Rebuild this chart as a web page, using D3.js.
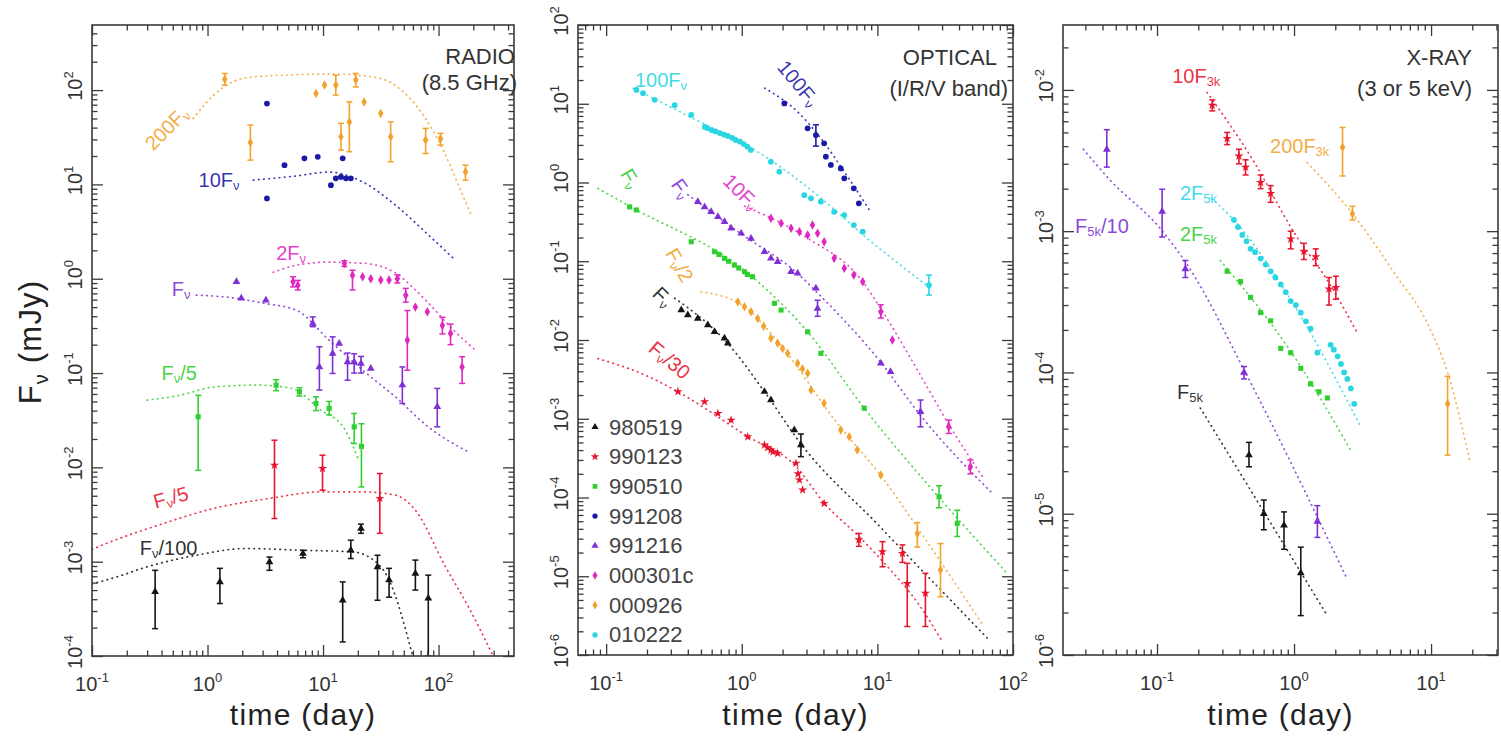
<!DOCTYPE html>
<html><head><meta charset="utf-8">
<script src="https://cdn.jsdelivr.net/npm/d3@7"></script>
<style>
body{margin:0;background:#fff}
svg{display:block}
text{font-family:"Liberation Sans",Arial,Helvetica,sans-serif}
</style>
</head><body>
<svg id="chart" width="1501" height="741"></svg>
<script>
// ===================== DATA (time in days, flux in mJy) =====================
// point rows: [t, F, errLow, errHigh]  (error values optional)
// ---- RADIO 8.5 GHz ----
const radio_000926 = [[1.41,130,113,150],[2.35,27.9,18.1,42.6],[8.7,92],[10.3,113],[12.9,113,88.5,144],[14.3,32,23.1,44.4],[16.9,46,22.2,75],[19.2,128,108,150],[22.7,75],[31.6,56.6],[38.5,32,17.4,46],[77.3,29.5,21.3,39.3],[104,30.7,26.1,34.8],[171,13.6,11.1,16]];
const radio_000926_model = [[0.75,50],[1.27,100],[2.08,134],[4.6,144],[12.4,148],[30.4,134],[49.9,95],[74,54],[110,23],[149,9.8],[192,4.7]];
const radio_991208 = [[3.27,72],[3.27,7.1],[4.64,16],[6.9,18.9],[9.0,19.6],[14.8,18.9],[11.7,9.8],[12.9,11.6],[14.3,12],[15.8,11.6],[17.4,11.6]];
const radio_991208_model = [[2.49,11.1],[5.6,12.2],[11.3,13.5],[22.1,10.6],[42.6,6.0],[82,2.9],[140,1.57]];
const radio_000301c = [[5.5,0.93,0.82,1.05],[6.05,0.855,0.76,0.96],[15.3,1.45,1.35,1.55],[18,1.09,0.76,1.23],[22,1.05],[25.9,1.0],[31.6,0.97],[37.3,0.97],[44,1.0,0.9,1.1],[52,0.67,0.565,0.79],[63,0.5],[53.7,0.223,0.107,0.46],[80,0.446],[108,0.32,0.26,0.39],[127,0.263,0.2,0.33],[160,0.116,0.0776,0.149]];
const radio_000301c_model = [[3.7,1.17],[5.85,1.39],[11.3,1.5],[22.1,1.46],[42.6,1.15],[59.7,0.81],[82,0.55],[135,0.285],[208,0.175]];
const radio_991216 = [[1.78,0.93],[1.96,0.62],[3.2,0.59],[8.15,0.336,0.31,0.394],[9.3,0.116,0.066,0.19],[12.1,0.161,0.099,0.242],[13.8,0.206],[16.3,0.131,0.084,0.163],[18.6,0.131,0.1,0.16],[21.3,0.126,0.1,0.15],[25.9,0.112],[48.6,0.0745,0.0476,0.116],[97.5,0.0439,0.0269,0.0687]];
const radio_991216_model = [[0.8,0.67],[1.78,0.62],[3.04,0.55],[5.85,0.465],[11.3,0.223],[22.1,0.107],[42.6,0.0555],[82,0.0267],[189,0.0142]];
const radio_990510 = [[0.83,0.0344,0.0093,0.058],[3.93,0.0745,0.065,0.085],[6.25,0.0633,0.057,0.07],[8.7,0.0476,0.04,0.056],[11.3,0.0422,0.036,0.05],[18.6,0.0269,0.0179,0.0373],[21.5,0.0167,0.0062,0.029]];
const radio_990510_model = [[0.3,0.0516],[0.57,0.058],[1.13,0.071],[2.7,0.0745],[5.3,0.069],[9.6,0.0404],[15.2,0.026],[20.4,0.0119]];
const radio_990123 = [[3.8,0.01055,0.00287,0.0194],[9.9,0.00973,0.00573,0.01346],[31,0.00468,0.002,0.0086]];
const radio_990123_model = [[0.1,0.00135],[0.135,0.00157],[0.415,0.00254],[1.12,0.00366],[3.4,0.00468],[9.9,0.0055],[22,0.0055],[42.6,0.00507],[63,0.00352],[115,0.00088],[182,0.00033],[290,0.000106]];
const radio_980519 = [[0.352,0.00048,0.000195,0.00081],[1.28,0.00061,0.00036,0.00085],[3.44,0.000995,0.00081,0.00112],[6.7,0.00122,0.0011,0.00132],[17.4,0.00132,0.00108,0.00169],[21.3,0.00225,0.002,0.0025],[14.8,0.00039,0.000141,0.00061],[29.6,0.00088,0.00039,0.00117],[37.3,0.00064,0.00042,0.00085],[63,0.00075,0.0005,0.00104],[81.5,0.00041,0.0001,0.00072]];
const radio_980519_model = [[0.1,0.00058],[0.164,0.00069],[0.298,0.00088],[0.8,0.00117],[2.17,0.00138],[6.7,0.00132],[18,0.00127],[25,0.00112],[37.3,0.00064],[59,0.000106]];

// ---- OPTICAL I/R/V band ----
const opt_010222 = [[0.167,15],[0.187,13.6],[0.228,11.2],[0.32,9.6],[0.424,7.2],[0.535,5.07],[0.56,4.9],[0.6,4.64],[0.64,4.45],[0.69,4.25],[0.74,4.05],[0.79,3.9],[0.85,3.7],[0.9,3.47],[0.97,3.3],[1.035,3.08],[1.1,2.85],[1.165,2.59],[1.64,1.84],[1.89,1.37],[2.89,0.69],[3.24,0.63],[3.83,0.57],[4.8,0.425],[5.7,0.386],[6.7,0.288],[7.8,0.237],[24,0.0499,0.0372,0.0668]];
const opt_010222_model = [[0.158,15.7],[0.49,5.9],[1.355,2.37],[3.75,0.655],[8.4,0.195],[11.9,0.12],[24.5,0.0457]];
const opt_991208 = [[2.06,10.1],[3.06,4.87],[3.52,4.0,2.9,5.4],[4.05,3.15],[4.17,2.13],[4.54,1.67],[5.37,1.51],[5.7,1.13],[6.7,0.843],[7.3,0.544]];
const opt_991208_model = [[1.475,15.8],[2.58,7.9],[3.83,3.64],[5.7,1.37],[8.9,0.425]];
const opt_000301c = [[1.64,0.351],[1.95,0.303],[2.31,0.262],[2.66,0.237],[3.06,0.215],[3.32,0.288],[3.62,0.226],[4.05,0.177],[4.8,0.109],[5.7,0.0813],[6.7,0.0668],[7.8,0.055],[10.6,0.0229,0.019,0.028],[12.9,0.01],[33.6,0.00079,0.00065,0.00096],[48.5,0.000246,0.0002,0.0003]];
const opt_000301c_model = [[1.05,0.5],[3,0.2],[7.8,0.055],[10.6,0.025],[20,0.004],[33.6,0.00085],[60,0.00018]];
const opt_991216 = [[0.474,0.57],[0.532,0.49],[0.594,0.426],[0.667,0.368],[0.746,0.318],[0.834,0.262],[0.99,0.226],[1.17,0.195],[1.47,0.132],[1.64,0.109],[1.84,0.0987],[2.31,0.0736],[2.58,0.0702],[3.52,0.0453],[3.62,0.0252,0.02,0.032],[10.6,0.00506],[12.5,0.00396],[20.8,0.00123,0.00079,0.00173]];
const opt_991216_model = [[0.4,0.7],[1.0,0.22],[2.58,0.07],[3.6,0.04],[10.6,0.0052],[20.4,0.00115],[70,0.000114]];
const opt_990510 = [[0.149,0.49],[0.167,0.448],[0.424,0.177],[0.63,0.132],[0.68,0.122],[0.746,0.109],[0.8,0.1],[0.883,0.0895],[0.95,0.082],[1.047,0.0736],[1.1,0.068],[1.2,0.0636],[1.74,0.0292],[1.95,0.024],[3.06,0.0127],[3.83,0.00677],[8.0,0.00136],[28.5,0.000102,0.0000741,0.000141],[38.8,0.000047,0.000032,0.000069]];
const opt_990510_model = [[0.087,0.84],[0.149,0.5],[1.2,0.063],[3.06,0.0127],[8,0.00136],[28.5,0.0001],[90,0.000011]];
const opt_000926 = [[0.935,0.0307],[1.047,0.0265],[1.17,0.0229],[1.31,0.0188],[1.45,0.015],[1.64,0.0105],[1.84,0.00907],[2.0,0.0078],[2.18,0.00677],[2.58,0.00506],[2.8,0.0043],[3.06,0.00377],[3.24,0.00232],[4.05,0.00157],[5.37,0.00072],[6.2,0.00059],[7.1,0.0004],[10.6,0.000193],[19.7,0.000035,0.0000235,0.000048],[29.2,0.000012,0.0000055,0.000026]];
const opt_000926_model = [[0.5,0.041],[1.0,0.028],[2.0,0.008],[5.0,0.0009],[10.6,0.00019],[20,0.00004],[60,0.0000024]];
const opt_980519 = [[0.358,0.024],[0.4,0.0208],[0.474,0.0188],[0.562,0.0155],[0.63,0.0127],[0.746,0.0105],[0.79,0.00907],[1.47,0.00221],[1.64,0.00173],[2.44,0.00072],[2.73,0.000464,0.00033,0.00064]];
const opt_980519_model = [[0.32,0.034],[0.79,0.009],[1.5,0.0021],[2.73,0.00048],[10,0.000046],[68,0.0000015]];
const opt_990123 = [[0.338,0.00221],[0.532,0.00165],[0.667,0.00117],[0.834,0.00096],[1.106,0.00059],[1.47,0.000464],[1.55,0.00043],[1.64,0.0004],[1.7,0.00038],[1.84,0.000364],[2.51,0.000272],[2.6,0.0002],[2.66,0.000167],[2.81,0.000125],[4.05,0.000084],[7.3,0.000029,0.000024,0.000035],[10.9,0.0000205,0.0000132,0.0000275],[15.3,0.0000195,0.000015,0.000025],[16.6,0.0000081,0.0000023,0.0000146],[22.6,0.0000061,0.0000023,0.0000109]];
const opt_990123_model = [[0.087,0.0058],[0.2,0.0035],[0.338,0.0022],[1.1,0.0006],[2.5,0.00025],[4.05,0.000085],[7.3,0.000032],[12,0.000013],[20,0.0000045],[30,0.0000015]];

// ---- X-RAY 3 or 5 keV ----
const xray_990123 = [[0.253,0.00778,0.0071,0.0085],[0.325,0.00453,0.0041,0.005],[0.396,0.0034,0.003,0.0038],[0.443,0.00284,0.0025,0.0032],[0.57,0.00221,0.002,0.0025],[0.675,0.00185,0.0016,0.0021],[0.946,0.00088,0.00075,0.001],[1.18,0.00072,0.00063,0.00082],[1.44,0.00066,0.00057,0.00075],[1.8,0.00039,0.0003,0.00047],[2.02,0.0004,0.00033,0.00048]];
const xray_990123_model = [[0.232,0.0096],[0.5,0.0032],[1.0,0.00098],[1.8,0.00043],[2.9,0.00019]];
const xray_000926 = [[2.26,0.00392,0.00246,0.00542],[2.67,0.00133,0.0012,0.0015],[13.2,0.00006,0.000026,0.000094]];
const xray_000926_model = [[1.25,0.00305],[2.67,0.00133],[5.4,0.000506],[9.5,0.000218],[13.2,0.0001],[19.3,0.000023]];
const xray_991216 = [[0.043,0.00379,0.00284,0.00523],[0.109,0.00138,0.00091,0.00198],[0.161,0.00054,0.00047,0.00062],[0.431,0.0001,0.00009,0.00011],[1.48,0.0000088,0.0000068,0.0000114]];
const xray_991216_model = [[0.029,0.0038],[0.0456,0.00229],[0.106,0.00104],[0.166,0.00058],[0.456,0.000094],[2.46,0.0000034]];
const xray_010222 = [[0.364,0.0012],[0.39,0.00107],[0.419,0.00094],[0.45,0.00085],[0.482,0.00075],[0.52,0.00071],[0.57,0.00064],[0.62,0.00058],[0.675,0.00052],[0.73,0.00047],[0.8,0.00042],[0.87,0.00037],[0.946,0.00032],[1.03,0.0003],[1.12,0.000265],[1.22,0.00023],[1.32,0.000204],[1.48,0.000138],[1.85,0.000157],[1.95,0.000145],[2.08,0.00013],[2.2,0.000115],[2.32,0.0001],[2.45,0.00009],[2.6,0.000077],[2.75,0.00006]];
const xray_010222_model = [[0.25,0.0017],[0.35,0.00125],[1.0,0.0003],[3.08,0.000041]];
const xray_990510 = [[0.325,0.00052],[0.407,0.00044],[0.482,0.00034],[0.57,0.000265],[0.675,0.000232],[0.8,0.000148],[0.946,0.000138],[1.12,0.000107],[1.32,0.000083],[1.52,0.000073],[1.75,0.000066]];
const xray_990510_model = [[0.29,0.00062],[1.0,0.00013],[2.6,0.000028]];
const xray_980519 = [[0.469,0.000026,0.0000215,0.000032],[0.602,0.00001,0.0000077,0.0000125],[0.845,0.0000083,0.0000056,0.0000103],[1.12,0.0000038,0.0000019,0.0000058]];
const xray_980519_model = [[0.207,0.000056],[1.75,0.0000019]];

// ---- legend / tick labels ----
const grbNames = ["980519","990123","990510","991208","991216","000301c","000926","010222"];
const radioXExp = [-1,0,1,2], radioYExp = [-4,-3,-2,-1,0,1,2];
const optXExp = [-1,0,1,2], optYExp = [-6,-5,-4,-3,-2,-1,0,1,2];
const xrayXExp = [-1,0,1], xrayYExp = [-6,-5,-4,-3,-2];

// ===================== STYLE =====================
const grbStyle = {
  "980519": {color:"#151515", sym:d3.symbolTriangle},
  "990123": {color:"#e8142e", sym:d3.symbolStar},
  "990510": {color:"#2fcf2f", sym:d3.symbolSquare},
  "991208": {color:"#1a1aa6", sym:d3.symbolCircle},
  "991216": {color:"#7e2fd6", sym:d3.symbolTriangle},
  "000301c":{color:"#e028c0", sym:d3.symbolDiamond},
  "000926": {color:"#f2a22c", sym:d3.symbolDiamond},
  "010222": {color:"#2ad6e2", sym:d3.symbolCircle}
};

const panels = [
  {key:"radio", L:92, R:514, T:25, B:656, xDom:[0.1,450], yDom:[1e-4,490], xExp:radioXExp, yExp:radioYExp,
   title:[["RADIO",515,64],["(8.5 GHz)",517,90]],
   series:[
    {grb:"000926", pts:radio_000926, model:radio_000926_model, label:"200F_{ν}", at:[0.443,39.5], anchor:"middle", rot:-45},
    {grb:"991208", pts:radio_991208, model:radio_991208_model, label:"10F_{ν}", at:[0.836,11.1], anchor:"start", rot:0},
    {grb:"000301c",pts:radio_000301c,model:radio_000301c_model,label:"2F_{ν}", at:[3.93,1.87], anchor:"start", rot:0},
    {grb:"991216", pts:radio_991216, model:radio_991216_model, label:"F_{ν}", at:[0.49,0.776], anchor:"start", rot:0},
    {grb:"990510", pts:radio_990510, model:radio_990510_model, label:"F_{ν}/5", at:[0.40,0.1], anchor:"start", rot:0},
    {grb:"990123", pts:radio_990123, model:radio_990123_model, label:"F_{ν}/5", at:[0.342,0.0043], anchor:"start", rot:-15},
    {grb:"980519", pts:radio_980519, model:radio_980519_model, label:"F_{ν}/100", at:[0.259,0.00139], anchor:"start", rot:0}
   ]},
  {key:"opt", L:578, R:1013, T:25, B:655, xDom:[0.062,100], yDom:[1e-6,100], xExp:optXExp, yExp:optYExp,
   title:[["OPTICAL",997,65],["(I/R/V band)",1008,96]], legend:true,
   series:[
    {grb:"010222", pts:opt_010222, model:opt_010222_model, label:"100F_{ν}", at:[0.163,20], anchor:"start", rot:0},
    {grb:"991208", pts:opt_991208, model:opt_991208_model, label:"100F_{ν}", at:[2.61,18.2], anchor:"middle", rot:50},
    {grb:"000301c",pts:opt_000301c,model:opt_000301c_model,label:"10F_{ν}", at:[0.99,0.76], anchor:"middle", rot:45},
    {grb:"991216", pts:opt_991216, model:opt_991216_model, label:"F_{ν}", at:[0.358,0.84], anchor:"middle", rot:55},
    {grb:"990510", pts:opt_990510, model:opt_990510_model, label:"F_{ν}", at:[0.151,1.13], anchor:"middle", rot:60},
    {grb:"000926", pts:opt_000926, model:opt_000926_model, label:"F_{ν}/2", at:[0.348,0.0895], anchor:"middle", rot:60},
    {grb:"980519", pts:opt_980519, model:opt_980519_model, label:"F_{ν}", at:[0.262,0.0355], anchor:"middle", rot:45},
    {grb:"990123", pts:opt_990123, model:opt_990123_model, label:"F_{ν}/30", at:[0.294,0.00557], anchor:"middle", rot:40}
   ]},
  {key:"xray", L:1063, R:1498, T:25, B:655, xDom:[0.0206,30.8], yDom:[1e-6,0.0288], xExp:xrayXExp, yExp:xrayYExp,
   title:[["X-RAY",1472,65],["(3 or 5 keV)",1472,96]],
   series:[
    {grb:"990123", pts:xray_990123, model:xray_990123_model, label:"10F_{3k}", at:[0.129,0.0125], anchor:"start", rot:0},
    {grb:"000926", pts:xray_000926, model:xray_000926_model, label:"200F_{3k}", at:[0.668,0.004], anchor:"start", rot:0},
    {grb:"991216", pts:xray_991216, model:xray_991216_model, label:"F_{5k}/10", at:[0.0252,0.00108], anchor:"start", rot:0},
    {grb:"010222", pts:xray_010222, model:xray_010222_model, label:"2F_{5k}", at:[0.147,0.00187], anchor:"start", rot:0},
    {grb:"990510", pts:xray_990510, model:xray_990510_model, label:"2F_{5k}", at:[0.147,0.00096], anchor:"start", rot:0},
    {grb:"980519", pts:xray_980519, model:xray_980519_model, label:"F_{5k}", at:[0.14,0.000073], anchor:"start", rot:0}
   ]}
];

// ===================== DRAW =====================
const svg = d3.select("#chart");
const defs = svg.append("defs");
const AXC = "#3a3a3a";

function rich(textSel, str, subSize, subDy) {
  const re = /_\{([^}]*)\}/g;
  let last = 0, m, shifted = false;
  while ((m = re.exec(str)) !== null) {
    if (m.index > last) {
      const t = textSel.append("tspan").text(str.slice(last, m.index));
      if (shifted) { t.attr("dy", -subDy); shifted = false; }
    }
    textSel.append("tspan").attr("dy", shifted ? 0 : subDy).attr("font-size", subSize).text(m[1]);
    shifted = true;
    last = re.lastIndex;
  }
  if (last < str.length) {
    const t = textSel.append("tspan").text(str.slice(last));
    if (shifted) t.attr("dy", -subDy);
  }
}

function decadeTicks(dom) {
  const lo = Math.floor(Math.log10(dom[0])), hi = Math.ceil(Math.log10(dom[1]));
  const major = [], minor = [];
  for (let e = lo; e <= hi; e++) {
    const b = Math.pow(10, e);
    if (b >= dom[0]*0.9999 && b <= dom[1]*1.0001) major.push(b);
    for (let k = 2; k <= 9; k++) { const v = k*b; if (v > dom[0] && v < dom[1]) minor.push(v); }
  }
  return {major, minor};
}

panels.forEach(p => {
  const x = d3.scaleLog().domain(p.xDom).range([p.L, p.R]);
  const y = d3.scaleLog().domain(p.yDom).range([p.B, p.T]);
  const g = svg.append("g");
  const clipId = "clip-" + p.key;
  defs.append("clipPath").attr("id", clipId).append("rect")
    .attr("x", p.L).attr("y", p.T).attr("width", p.R - p.L).attr("height", p.B - p.T);
  const plot = g.append("g").attr("clip-path", `url(#${clipId})`);
  const line = d3.line().x(d => x(d[0])).y(d => y(d[1])).curve(d3.curveMonotoneX);

  // model curves (dotted)
  p.series.forEach(s => {
    plot.append("path").datum(s.model).attr("d", line)
      .attr("fill", "none").attr("stroke", grbStyle[s.grb].color).attr("stroke-opacity", 0.85)
      .attr("stroke-width", 1.7).attr("stroke-dasharray", "0.6 4.6").attr("stroke-linecap", "round");
  });
  // data
  p.series.forEach(s => {
    const st = grbStyle[s.grb];
    const sg = plot.append("g");
    const withErr = s.pts.filter(d => d.length >= 4);
    sg.selectAll("line.err").data(withErr).join("line").attr("class","err")
      .attr("x1", d => x(d[0])).attr("x2", d => x(d[0]))
      .attr("y1", d => y(d[2])).attr("y2", d => y(d[3]))
      .attr("stroke", st.color).attr("stroke-width", 1.6);
    [2,3].forEach(i => {
      sg.selectAll("line.cap"+i).data(withErr).join("line").attr("class","cap"+i)
        .attr("x1", d => x(d[0]) - 3).attr("x2", d => x(d[0]) + 3)
        .attr("y1", d => y(d[i])).attr("y2", d => y(d[i]))
        .attr("stroke", st.color).attr("stroke-width", 1.5);
    });
    sg.selectAll("path.pt").data(s.pts).join("path").attr("class","pt")
      .attr("transform", d => `translate(${x(d[0])},${y(d[1])})`)
      .attr("d", d3.symbol().type(st.sym).size(26))
      .attr("fill", st.color);
  });
  // series labels
  p.series.forEach(s => {
    const t = g.append("text")
      .attr("transform", `translate(${x(s.at[0])},${y(s.at[1])}) rotate(${s.rot})`)
      .attr("text-anchor", s.anchor).attr("dominant-baseline", "central")
      .attr("font-size", 20).attr("fill", grbStyle[s.grb].color).attr("fill-opacity", 0.9);
    rich(t, s.label, 13, 5);
  });

  // axes: ticks inward on all four sides
  const xt = decadeTicks(p.xDom), yt = decadeTicks(p.yDom);
  const ax = [
    [d3.axisBottom(x), `translate(0,${p.B})`, xt],
    [d3.axisTop(x), `translate(0,${p.T})`, xt],
    [d3.axisLeft(y), `translate(${p.L},0)`, yt],
    [d3.axisRight(y), `translate(${p.R},0)`, yt]
  ];
  ax.forEach(([a, tr, tk]) => {
    [[tk.major, 11], [tk.minor, 5.5]].forEach(([vals, len]) => {
      const ag = g.append("g").attr("transform", tr)
        .call(a.tickValues(vals).tickSize(-len).tickSizeOuter(0).tickFormat(""));
      ag.select(".domain").remove();
      ag.selectAll("line").attr("stroke", AXC).attr("stroke-width", 1.3);
    });
  });
  g.append("rect").attr("x", p.L).attr("y", p.T).attr("width", p.R - p.L).attr("height", p.B - p.T)
    .attr("fill", "none").attr("stroke", AXC).attr("stroke-width", 1.6);

  // tick labels
  p.xExp.forEach(e => {
    const t = g.append("text").attr("x", x(Math.pow(10, e))).attr("y", p.B + 35)
      .attr("text-anchor", "middle").attr("font-size", 20).attr("fill", "#333");
    t.append("tspan").text("10");
    t.append("tspan").attr("dy", -9).attr("font-size", 13).text(String(e));
  });
  p.yExp.forEach(e => {
    const t = g.append("text")
      .attr("transform", `translate(${p.L - 10},${y(Math.pow(10, e)) - 4}) rotate(-90)`)
      .attr("text-anchor", "middle").attr("font-size", 20).attr("fill", "#333");
    t.append("tspan").text("10");
    t.append("tspan").attr("dy", -9).attr("font-size", 13).text(String(e));
  });

  // panel title
  p.title.forEach(([txt, tx, ty]) => {
    g.append("text").attr("x", tx).attr("y", ty).attr("text-anchor", "end")
      .attr("font-size", 22).attr("fill", "#333").text(txt);
  });

  // x axis title
  g.append("text").attr("x", (p.L + p.R) / 2).attr("y", 725).attr("text-anchor", "middle")
    .attr("font-size", 30).attr("letter-spacing", 1.3).attr("fill", "#222").text("time (day)");

  // legend
  if (p.legend) {
    const lg = g.append("g");
    grbNames.forEach((n, i) => {
      const cy = 427 + i * 29.7;
      lg.append("path").attr("transform", `translate(${p.L + 17},${cy})`)
        .attr("d", d3.symbol().type(grbStyle[n].sym).size(22)).attr("fill", grbStyle[n].color);
      lg.append("text").attr("x", p.L + 31).attr("y", cy).attr("dominant-baseline", "central")
        .attr("font-size", 22).attr("fill", "#444").text(n);
    });
  }
});

// y axis title
const yt = svg.append("text").attr("transform", "translate(41,342) rotate(-90)")
  .attr("text-anchor", "middle").attr("font-size", 31).attr("letter-spacing", 1.2).attr("fill", "#222");
rich(yt, "F_{ν} (mJy)", 20, 7);
</script>
</body></html>
